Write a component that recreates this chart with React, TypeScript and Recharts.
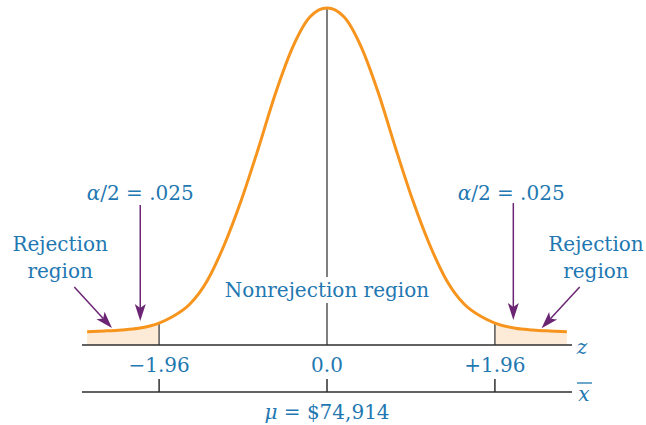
import React from 'react';
import {
  ComposedChart,
  Line,
  Area,
  XAxis,
  YAxis,
  ReferenceLine,
  ReferenceDot,
} from 'recharts';

// ---- data ----
const zPoints = [-2.8, -2.6, -2.4, -2.2, -1.96, -1.8, -1.6, -1.4, -1.2, -1.0, -0.8, -0.6, -0.4, -0.2, 0, 0.2, 0.4, 0.6, 0.8, 1.0, 1.2, 1.4, 1.6, 1.8, 1.96, 2.2, 2.4, 2.6, 2.8];
const curveValues = [0.0157, 0.0166, 0.0178, 0.0198, 0.026, 0.0337, 0.0485, 0.0758, 0.1184, 0.1716, 0.2332, 0.2983, 0.3527, 0.3883, 0.3989, 0.3883, 0.3527, 0.2983, 0.2332, 0.1716, 0.1184, 0.0758, 0.0485, 0.0337, 0.026, 0.0198, 0.0178, 0.0166, 0.0157];
const criticalZ = [-1.96, 1.96];
const boundaryZ = [-1.96, 0, 1.96];
const zDomain = [-2.86, 2.86];

const zTickValues = [-1.96, 0, 1.96];
const zTickLabels = ['\u22121.96', '0.0', '+1.96'];
const xbarTickValues = [-1.96, 0, 1.96];
const xbarTickLabels = ['', '\u03bc = $74,914', ''];

const alphaLabels = [
  { z: -2.18, d: 0.1716, text: '\u03b1/2 = .025' },
  { z: 2.15, d: 0.1716, text: '\u03b1/2 = .025' },
];
const rejectionLabels = [
  { z: -3.115, d: 0.1113, text: 'Rejection' },
  { z: -3.115, d: 0.0793, text: 'region' },
  { z: 3.14, d: 0.1113, text: 'Rejection' },
  { z: 3.14, d: 0.0793, text: 'region' },
];
const centerLabel = { z: 0, d: 0.0568, text: 'Nonrejection region' };

const arrows = [
  { z1: -2.18, d1: 0.1657, z2: -2.18, d2: 0.0284 },
  { z1: -2.95, d1: 0.0687, z2: -2.51, d2: 0.0201 },
  { z1: 2.175, d1: 0.168, z2: 2.175, d2: 0.0296 },
  { z1: 2.95, d1: 0.0687, z2: 2.505, d2: 0.0198 },
];

// ---- styles ----
const BLUE = '#1f78b1';
const ORANGE = '#f7941d';
const PEACH = '#fdebd7';
const PURPLE = '#6b2574';
const AXIS = '#2e2e2e';
const GRAY = '#555555';
const FONT = '"DejaVu Serif", serif';
const FS = 20;

const data = zPoints.map((z, i) => ({
  z,
  density: curveValues[i],
  tail: z <= criticalZ[0] || z >= criticalZ[1] ? curveValues[i] : null,
}));

const curveAt = (z: number) => curveValues[zPoints.indexOf(z)];
const peak = Math.max(...curveValues);

const renderItalicFirst = (s: string) => {
  const first = s.charAt(0);
  if (first === '\u03b1' || first === '\u03bc') {
    return (
      <>
        <tspan fontStyle="italic">{first}</tspan>
        {s.slice(1)}
      </>
    );
  }
  return s;
};

const TextShape = (text: string, extra?: { bg?: boolean }) => (props: any) => {
  const { cx, cy } = props;
  return (
    <g>
      {extra?.bg ? (
        <rect x={cx - 106} y={cy - 20} width={212} height={26} fill="#ffffff" />
      ) : null}
      <text
        x={cx}
        y={cy}
        textAnchor="middle"
        fill={BLUE}
        fontFamily={FONT}
        fontSize={FS}
      >
        {renderItalicFirst(text)}
      </text>
    </g>
  );
};

const ArrowShape = (props: any) => {
  const { x1, y1, x2, y2 } = props;
  const dx = x2 - x1;
  const dy = y2 - y1;
  const len = Math.hypot(dx, dy) || 1;
  const ux = dx / len;
  const uy = dy / len;
  const px = -uy;
  const py = ux;
  const L = 17;
  const W = 5.5;
  const N = 4;
  const bx = x2 - ux * L;
  const by = y2 - uy * L;
  const nx = x2 - ux * (L - N);
  const ny = y2 - uy * (L - N);
  const pts = [
    [x2, y2],
    [bx + px * W, by + py * W],
    [nx, ny],
    [bx - px * W, by - py * W],
  ]
    .map((p) => p.join(','))
    .join(' ');
  return (
    <g>
      <line x1={x1} y1={y1} x2={nx} y2={ny} stroke={PURPLE} strokeWidth={1.5} />
      <polygon points={pts} fill={PURPLE} />
    </g>
  );
};

const XbarTick = (props: any) => {
  const { x, y, index } = props;
  const label = xbarTickLabels[index];
  return (
    <g>
      <line x1={x} y1={y - 13} x2={x} y2={y} stroke={AXIS} strokeWidth={1.5} />
      {label ? (
        <text x={x} y={y + 27} textAnchor="middle" fill={BLUE} fontFamily={FONT} fontSize={FS}>
          {renderItalicFirst(label)}
        </text>
      ) : null}
    </g>
  );
};

const ZLetter = (props: any) => {
  const vb = props.viewBox || {};
  const x = vb.x + vb.width + 10;
  const y = vb.y + 9;
  return (
    <text x={x} y={y} textAnchor="middle" fill={BLUE} fontFamily={FONT} fontSize={FS} fontStyle="italic">
      z
    </text>
  );
};

const XbarLetter = (props: any) => {
  const vb = props.viewBox || {};
  const x = vb.x + vb.width + 12;
  const y = vb.y + 9;
  return (
    <g>
      <line x1={x - 7} y1={y - 18} x2={x + 8} y2={y - 18} stroke={BLUE} strokeWidth={1.3} />
      <text x={x} y={y} textAnchor="middle" fill={BLUE} fontFamily={FONT} fontSize={FS} fontStyle="italic">
        x
      </text>
    </g>
  );
};

export default function App() {
  return (
    <div style={{ position: 'absolute', left: 0, top: 0, background: '#fff' }}>
      <ComposedChart
        width={646}
        height={425}
        data={data}
        margin={{ top: 8, right: 74, bottom: 0, left: 82 }}
      >
        <XAxis
          xAxisId="axis2"
          dataKey="z"
          type="number"
          domain={zDomain}
          allowDataOverflow
          ticks={xbarTickValues}
          interval={0}
          tickLine={false}
          tickSize={0}
          tickMargin={0}
          tick={<XbarTick />}
          axisLine={{ stroke: AXIS, strokeWidth: 1.5 }}
          height={33}
          label={<XbarLetter />}
        />
        <XAxis
          xAxisId="axis1"
          dataKey="z"
          type="number"
          domain={zDomain}
          allowDataOverflow
          ticks={zTickValues}
          interval={0}
          tickFormatter={(v: number) => zTickLabels[zTickValues.indexOf(v)]}
          tickLine={false}
          tickSize={6}
          tickMargin={7}
          tick={{ fill: BLUE, fontSize: FS, fontFamily: FONT }}
          axisLine={{ stroke: AXIS, strokeWidth: 1.5 }}
          height={47}
          label={<ZLetter />}
        />
        <YAxis hide domain={[0, peak]} />

        <Area
          xAxisId="axis1"
          dataKey="tail"
          type="monotone"
          fill={PEACH}
          fillOpacity={1}
          stroke="none"
          isAnimationActive={false}
          connectNulls={false}
          activeDot={false}
        />

        {boundaryZ.map((bz) => (
          <ReferenceLine
            key={'b' + bz}
            xAxisId="axis1"
            segment={[
              { x: bz, y: 0 },
              { x: bz, y: curveAt(bz) },
            ]}
            stroke={GRAY}
            strokeWidth={1.5}
            ifOverflow="visible"
          />
        ))}

        <ReferenceDot
          xAxisId="axis1"
          x={centerLabel.z}
          y={centerLabel.d}
          r={0}
          ifOverflow="visible"
          shape={TextShape(centerLabel.text, { bg: true })}
        />

        <Line
          xAxisId="axis1"
          dataKey="density"
          type="monotone"
          stroke={ORANGE}
          strokeWidth={3}
          dot={false}
          activeDot={false}
          isAnimationActive={false}
        />

        {arrows.map((a, i) => (
          <ReferenceLine
            key={'a' + i}
            xAxisId="axis1"
            segment={[
              { x: a.z1, y: a.d1 },
              { x: a.z2, y: a.d2 },
            ]}
            ifOverflow="visible"
            shape={ArrowShape}
          />
        ))}

        {alphaLabels.concat(rejectionLabels).map((l, i) => (
          <ReferenceDot
            key={'l' + i}
            xAxisId="axis1"
            x={l.z}
            y={l.d}
            r={0}
            ifOverflow="visible"
            shape={TextShape(l.text)}
          />
        ))}
      </ComposedChart>
    </div>
  );
}
